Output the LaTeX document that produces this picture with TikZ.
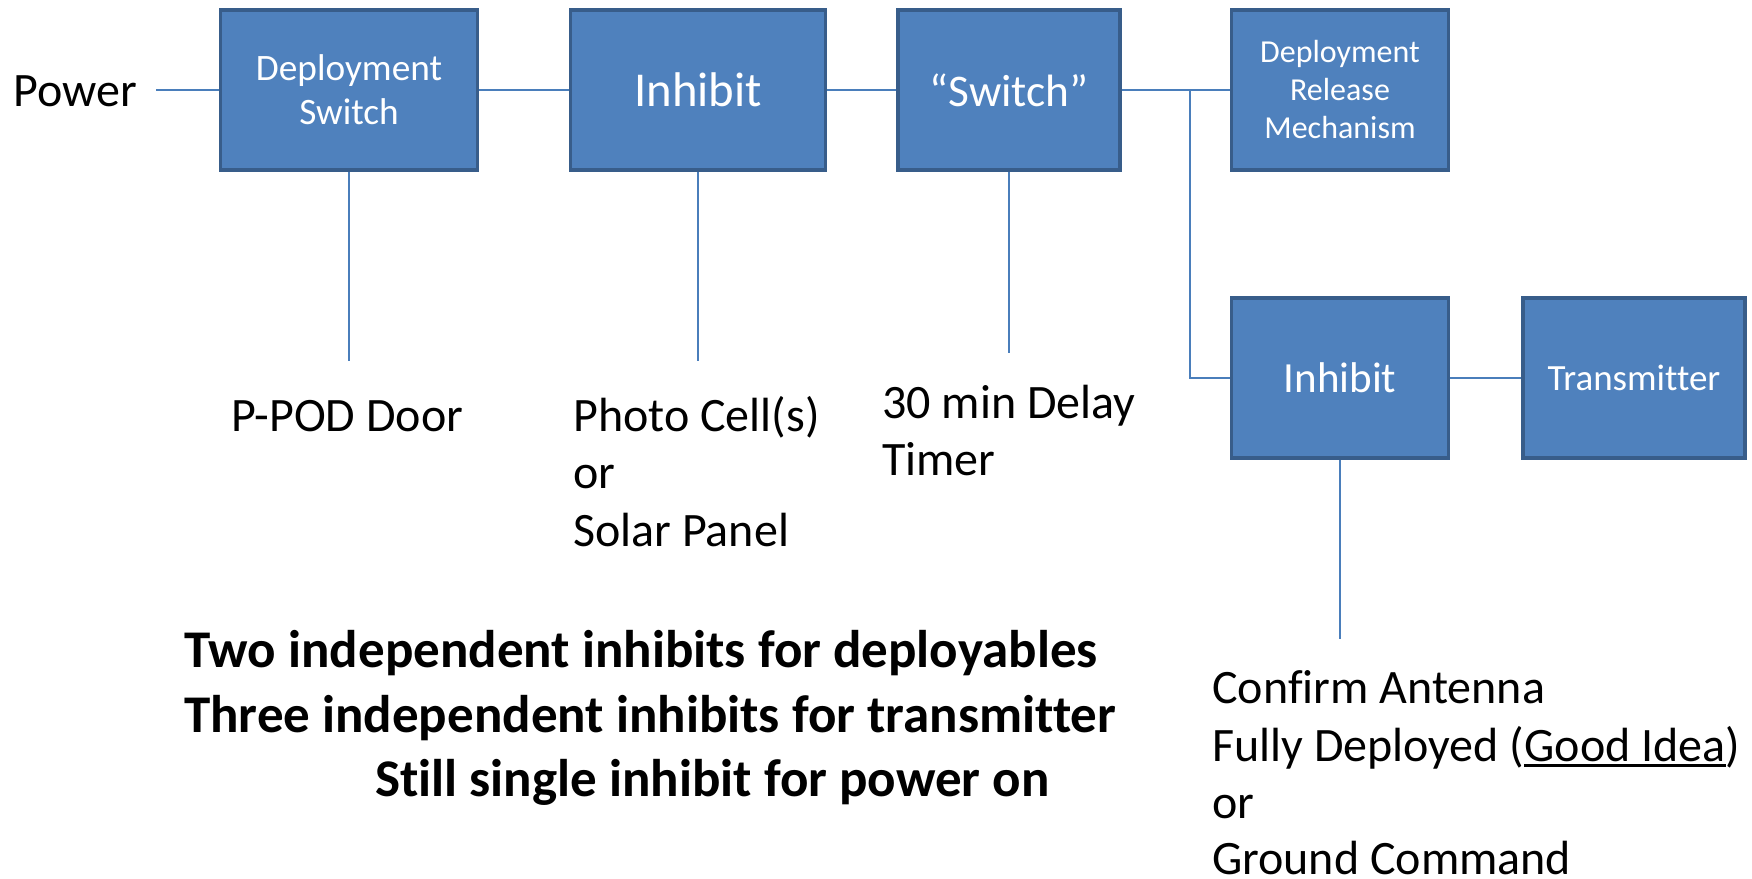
\documentclass[tikz,border=0pt]{standalone}
\usepackage{fontspec}
\setmainfont{Carlito}[Ligatures={NoCommon}]
\definecolor{boxfill}{HTML}{4F81BD}
\definecolor{boxline}{HTML}{385D8A}
\definecolor{connline}{HTML}{4A7EBB}
\newcommand{\thickul}[1]{\setbox0\hbox{#1}\rlap{\rule[-6pt]{\wd0}{2.6pt}}\box0}
\begin{document}
\begin{tikzpicture}[x=1pt,y=-1pt,
  blk/.style={rectangle, fill=boxfill, draw=boxline, line width=3.5pt,
    text=white, align=center, inner sep=0pt, minimum height=160pt},
  conn/.style={draw=connline, line width=2pt},
  lbl/.style={anchor=base west, inner sep=0pt, font=\fontsize{48}{57}\selectfont},
  bld/.style={anchor=base west, inner sep=0pt, font=\fontsize{53}{64}\selectfont\bfseries}]
\useasboundingbox (0,0) rectangle (1752,878);
% boxes
\node[blk, minimum width=257pt, font=\fontsize{37.3}{44}\selectfont] (ds) at (349,90) {Deployment\\Switch};
\node[blk, minimum width=255pt, font=\fontsize{48.7}{56}\selectfont] (inh) at (698,90) {Inhibit};
\node[blk, minimum width=222pt, font=\fontsize{45.3}{56}\selectfont] (sw) at (1009,90) {“Switch”};
\node[blk, minimum width=217pt, font=\fontsize{32}{38}\selectfont] (drm) at (1340,90) {Deployment\\Release\\Mechanism};
\node[blk, minimum width=217pt, font=\fontsize{43}{56}\selectfont] (inh2) at (1340,378) {Inhibit};
\node[blk, minimum width=222pt, font=\fontsize{37}{44}\selectfont] (tx) at (1634,378) {Transmitter};
% coordinates
\coordinate (pw) at (156,90);
\coordinate (j) at (1190,90);
\coordinate (dsend) at (349,361);
\coordinate (inhend) at (698,361);
\coordinate (swend) at (1009,353);
\coordinate (inh2end) at (1340,639);
% connectors
\draw[conn] (pw) -- (ds.west);
\draw[conn] (ds.east) -- (inh.west);
\draw[conn] (inh.east) -- (sw.west);
\draw[conn] (sw.east) -- (drm.west);
\draw[conn] (j) |- (inh2.west);
\draw[conn] (inh2.east) -- (tx.west);
\draw[conn] (ds.south) -- (dsend);
\draw[conn] (inh.south) -- (inhend);
\draw[conn] (sw.south) -- (swend);
\draw[conn] (inh2.south) -- (inh2end);
% labels
\node[lbl] (power) at (13,106) {Power};
\node[lbl] (ppod) at (231,431) {P-POD Door};
\node[lbl] (photo1) at (573,431) {Photo Cell(s)};
\node[lbl] (photo2) at (573,488) {or};
\node[lbl] (photo3) at (573,546) {Solar Panel};
\node[lbl] (delay1) at (882,418) {30 min Delay};
\node[lbl] (delay2) at (882,475) {Timer};
\node[lbl] (conf1) at (1212,703) {Confirm Antenna};
\node[lbl] (conf2) at (1212,761) {Fully Deployed (\thickul{Good Idea})};
\node[lbl] (conf3) at (1212,818) {or};
\node[lbl] (conf4) at (1212,874) {Ground Command};
\node[bld] (note1) at (184,667) {Two independent inhibits for deployables};
\node[bld] (note2) at (184,732) {Three independent inhibits for transmitter};
\node[bld] (note3) at (375,796) {Still single inhibit for power on};
\end{tikzpicture}
\end{document}
